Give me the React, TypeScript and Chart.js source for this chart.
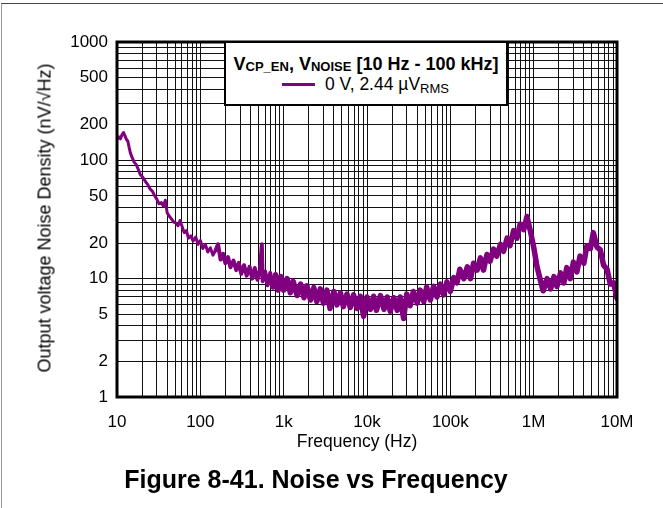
import React, { useEffect, useRef } from 'react';
import { Chart, registerables } from 'chart.js';

Chart.register(...registerables);

// Frequency (Hz) of each sample of the measured curve
const freqHz: number[] = [
  10, 10.5, 11, 11.5, 12, 12.5, 13, 13.5, 14, 14.5, 15, 16, 17, 18, 19, 20, 21, 22, 23.5, 25,
  26.5, 28, 30, 32, 34, 36, 38, 40, 42, 45, 48, 51, 54, 57, 60, 64, 68, 72, 77, 82,
  88, 94, 100, 107, 115, 123, 132, 142, 152, 163, 175, 188, 200, 215, 230, 250, 270, 290, 310, 335,
  360, 390, 420, 450, 485, 520, 547, 560, 600, 640, 690, 740, 800, 860, 930,
  1000, 1100, 1200, 1300, 1450, 1600, 1750, 1900, 2100, 2300, 2500, 2750, 3000, 3300, 3600, 4000,
  4350, 4800, 5200, 5750, 6300, 6900, 7600, 8300, 9100,
  10000, 11000, 12000, 13000, 14500, 16000, 17500, 19000, 21000, 23000, 25000, 27500, 30000, 33000,
  36000, 40000, 43500, 48000, 52000, 57500, 63000, 69000, 76000, 83000, 91000,
  100000, 110000, 120000, 130000, 145000, 160000, 175000, 190000, 210000, 230000, 250000, 275000,
  300000, 330000, 360000, 400000, 435000, 480000, 520000, 575000, 630000, 690000, 760000, 830000, 910000,
  1000000, 1100000, 1200000, 1300000, 1450000, 1600000, 1750000, 1900000, 2100000, 2300000, 2500000,
  2750000, 3000000, 3300000, 3600000, 4000000, 4350000, 4800000, 5200000, 5750000, 6300000, 6900000,
  7600000, 8300000, 9100000, 10000000,
];

// Output voltage noise density (nV/√Hz), VCP_EN = 0 V
const noiseDensity: number[] = [
  150, 158, 152, 165, 172, 160, 150, 145, 128, 115, 108, 97, 92, 84, 76, 73, 70, 66, 62, 57,
  55, 51, 47, 43, 44, 41, 46, 36, 34, 32, 30, 29.5, 28, 31, 28, 24.5, 25.5, 22, 23, 20.8,
  22.5, 19.5, 21, 18, 19.5, 16.8, 18.2, 15.8, 17.3, 19.5, 14.5, 16.2, 13.5, 15.2, 12.5, 14.2, 11.8, 13.6, 11.0, 13.0,
  10.6, 12.6, 10.0, 12.3, 9.8, 11.8, 19.5, 9.5, 11.5, 8.8, 11.2, 8.5, 10.8, 8.0, 10.4,
  8.0, 10.0, 7.6, 9.5, 7.2, 9.0, 6.9, 8.7, 6.6, 8.4, 6.4, 8.2, 6.2, 8.0, 5.6, 7.8,
  6.0, 7.6, 5.8, 7.4, 5.7, 7.3, 5.6, 7.1, 4.8,
  7.0, 5.5, 7.1, 5.4, 7.2, 5.5, 7.0, 5.3, 6.9, 5.4, 7.0, 4.6, 7.4, 5.9,
  7.8, 6.2, 8.0, 6.4, 8.5, 6.6, 8.6, 7.0, 9.0, 7.3, 9.4,
  7.8, 10.2, 9.2, 12.0, 10.0, 12.6, 10.0, 13.5, 11.8, 15.0, 11.8, 16.0,
  14.0, 17.8, 15.5, 19.5, 17.0, 22.0, 19.0, 25.5, 22.0, 29.0, 26.0, 33.5, 25.5,
  18.5, 12.5, 9.8, 7.9, 10.0, 8.2, 10.4, 8.6, 11.2, 9.2, 12.4,
  10.0, 13.8, 11.4, 15.5, 13.5, 19.0, 18.0, 24.5, 18.5, 17.5, 13.0,
  12.0, 9.0, 9.2, 6.8,
];

const xMajorValues: number[] = [10, 100, 1000, 10000, 100000, 1000000, 10000000];
const xMajorLabels: string[] = ['10', '100', '1k', '10k', '100k', '1M', '10M'];
const yLabelValues: number[] = [1, 2, 5, 10, 20, 50, 100, 200, 500, 1000];
const yLabelTexts: string[] = ['1', '2', '5', '10', '20', '50', '100', '200', '500', '1000'];

const FONT = '"Liberation Sans", Arial, Helvetica, sans-serif';
const PURPLE = '#800080';

function logGrid(min: number, max: number): number[] {
  const out: number[] = [];
  let decade = min;
  while (decade < max) {
    for (let m = 1; m <= 9; m++) out.push(m * decade);
    decade *= 10;
  }
  out.push(max);
  return out;
}

function labelFor(values: number[], texts: string[], v: number): string {
  for (let i = 0; i < values.length; i++) {
    if (Math.abs(values[i] - v) / values[i] < 1e-6) return texts[i];
  }
  return '';
}

const frameBorder = {
  id: 'frameBorder',
  afterDatasetsDraw(chart: any) {
    const { ctx, chartArea } = chart;
    ctx.save();
    ctx.strokeStyle = '#000';
    ctx.lineWidth = 3;
    ctx.strokeRect(chartArea.left, chartArea.top, chartArea.right - chartArea.left, chartArea.bottom - chartArea.top);
    ctx.restore();
  },
};

export default function App() {
  const canvasRef = useRef<HTMLCanvasElement | null>(null);

  useEffect(() => {
    const canvas = canvasRef.current;
    if (!canvas) return;
    const xGrid = logGrid(10, 10000000);
    const yGrid = logGrid(1, 1000);
    const chart = new Chart(canvas, {
      type: 'line',
      data: {
        datasets: [
          {
            label: '0 V, 2.44 µVRMS',
            data: freqHz.map((f, i) => ({ x: f, y: noiseDensity[i] })),
            borderColor: PURPLE,
            backgroundColor: PURPLE,
            borderWidth: 3,
            borderJoinStyle: 'round',
            borderCapStyle: 'round',
            pointRadius: 0,
            tension: 0,
            fill: false,
            segment: {
              borderWidth: (c: any) => (c.p0.parsed.x >= 700 ? 5.5 : c.p0.parsed.x >= 150 ? 4 : 3),
            },
          },
        ],
      },
      options: {
        animation: false,
        responsive: false,
        devicePixelRatio: 1,
        layout: { padding: { top: 42, right: 46, bottom: 0, left: 0 } },
        plugins: { legend: { display: false }, tooltip: { enabled: false }, title: { display: false } },
        scales: {
          x: {
            type: 'logarithmic',
            position: 'bottom',
            min: 10,
            max: 10000000,
            afterBuildTicks: (s: any) => {
              s.ticks = xGrid.map((v) => ({ value: v }));
            },
            afterFit: (s: any) => {
              s.height = 111;
            },
            grid: { color: '#111', lineWidth: 1, drawTicks: false },
            border: { display: false },
            ticks: {
              autoSkip: false,
              maxRotation: 0,
              minRotation: 0,
              padding: 15,
              color: '#000',
              font: { family: FONT, size: 17 },
              callback: (v: any) => labelFor(xMajorValues, xMajorLabels, Number(v)),
            },
          },
          y: {
            type: 'logarithmic',
            position: 'left',
            min: 1,
            max: 1000,
            afterBuildTicks: (s: any) => {
              s.ticks = yGrid.map((v) => ({ value: v }));
            },
            afterFit: (s: any) => {
              s.width = 117;
            },
            grid: { color: '#111', lineWidth: 1, drawTicks: false },
            border: { display: false },
            ticks: {
              autoSkip: false,
              padding: 9,
              color: '#000',
              font: { family: FONT, size: 17 },
              callback: (v: any) => labelFor(yLabelValues, yLabelTexts, Number(v)),
            },
          },
        },
      },
      plugins: [frameBorder],
    } as any);
    return () => chart.destroy();
  }, []);

  const abs: React.CSSProperties = { position: 'absolute', whiteSpace: 'nowrap', fontFamily: FONT, color: '#000' };

  return (
    <div style={{ position: 'absolute', left: 0, top: 0, width: 663, height: 508, background: '#fff', overflow: 'hidden' }}>
      <div style={{ position: 'absolute', left: 1, top: 3, width: 662, height: 505, borderTop: '1px solid #444', borderLeft: '1px solid #999', boxSizing: 'border-box' }} />
      <canvas ref={canvasRef} width={663} height={508} style={{ position: 'absolute', left: 0, top: 0, width: 663, height: 508 }} />
      {/* Legend box */}
      <div style={{ position: 'absolute', left: 224, top: 41, width: 284, height: 65, background: '#fff', border: '2px solid #000', boxSizing: 'border-box' }} />
      <div style={{ ...abs, left: 366, top: 54, transform: 'translateX(-50%)', fontSize: 18, fontWeight: 'bold', lineHeight: '20px' }}>
        V<span style={{ fontSize: 13, position: 'relative', top: 1 }}>CP_EN</span>, V
        <span style={{ fontSize: 13, position: 'relative', top: 1 }}>NOISE</span> [10 Hz - 100 kHz]
      </div>
      <div style={{ position: 'absolute', left: 282, top: 83, width: 33, height: 3, background: PURPLE }} />
      <div style={{ ...abs, left: 325, top: 74, fontSize: 17.5, lineHeight: '20px' }}>
        0 V, 2.44 µV<span style={{ fontSize: 13, position: 'relative', top: 3 }}>RMS</span>
      </div>
      {/* Axis titles */}
      <div style={{ ...abs, left: 45, top: 218, transform: 'translate(-50%, -50%) rotate(-90deg)', fontSize: 18 }}>
        Output voltage Noise Density (nV/√Hz)
      </div>
      <div style={{ ...abs, left: 357, top: 441, transform: 'translate(-50%, -50%)', fontSize: 17.5 }}>Frequency (Hz)</div>
      <div style={{ ...abs, left: 316, top: 479, transform: 'translate(-50%, -50%)', fontSize: 25, fontWeight: 'bold' }}>
        Figure 8-41. Noise vs Frequency
      </div>
    </div>
  );
}
